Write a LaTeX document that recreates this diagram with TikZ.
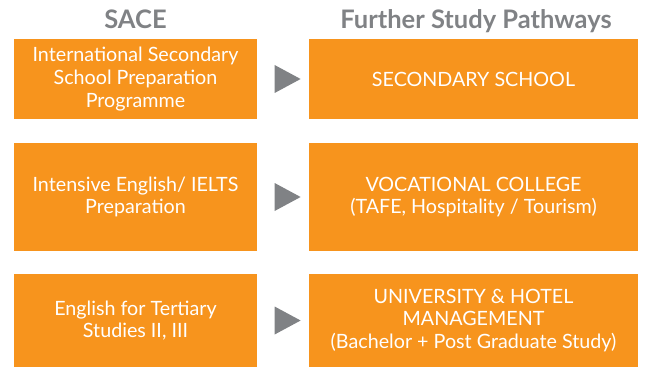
\documentclass[tikz,border=0pt]{standalone}
\usepackage{fontspec}
\setmainfont{Lato}
\usetikzlibrary{shapes.geometric}
\definecolor{paorange}{HTML}{F7941D}
\definecolor{pagrey}{HTML}{808285}
\begin{document}
\begin{tikzpicture}[x=1pt,y=1pt]

    \tikzset{
      course/.style={
        fill=paorange,
        text=white,
        align=center,
        inner sep=0pt,
        font=\fontsize{19.7}{22.8}\selectfont,
      },
      sace/.style={course, minimum width=243pt},
      pathway/.style={course, minimum width=329pt},
      heading/.style={
        text=pagrey,
        anchor=base,
        inner sep=0pt,
        font=\bfseries\fontsize{25.5}{28}\selectfont,
      },
      pointer/.style={
        isosceles triangle,
        isosceles triangle stretches,
        fill=pagrey,
        inner sep=0pt,
        minimum width=28pt,
        minimum height=26pt,
      },
    }
    \useasboundingbox (0,0) rectangle (646,-369);

    \node[heading] (hsace) at (135.5,-28.7) {SACE};
    \node[heading] (hpath) at (476,-28.7) {Further Study Pathways};

    % row 1
    \node[sace, minimum height=80pt] (sace1) at (135.5,-79) {International Secondary\\School Preparation\\Programme};
    \node[pathway, minimum height=80pt] (path1) at (473.5,-79) {SECONDARY SCHOOL};
    \node[pointer] (arr1) at (283,-79) {};

    % row 2
    \node[sace, minimum height=108pt] (sace2) at (135.5,-197) {Intensive English/ IELTS\\Preparation};
    \node[pathway, minimum height=108pt] (path2) at (473.5,-197) {VOCATIONAL COLLEGE\\(TAFE, Hospitality / Tourism)};
    \node[pointer] (arr2) at (283,-197) {};

    % row 3
    \node[sace, minimum height=93pt] (sace3) at (135.5,-320.5) {English for Tertiary\\Studies II, III};
    \node[pathway, minimum height=93pt] (path3) at (473.5,-320.5) {UNIVERSITY \& HOTEL\\MANAGEMENT\\(Bachelor + Post Graduate Study)};
    \node[pointer] (arr3) at (283,-320.5) {};

\end{tikzpicture}
\end{document}
